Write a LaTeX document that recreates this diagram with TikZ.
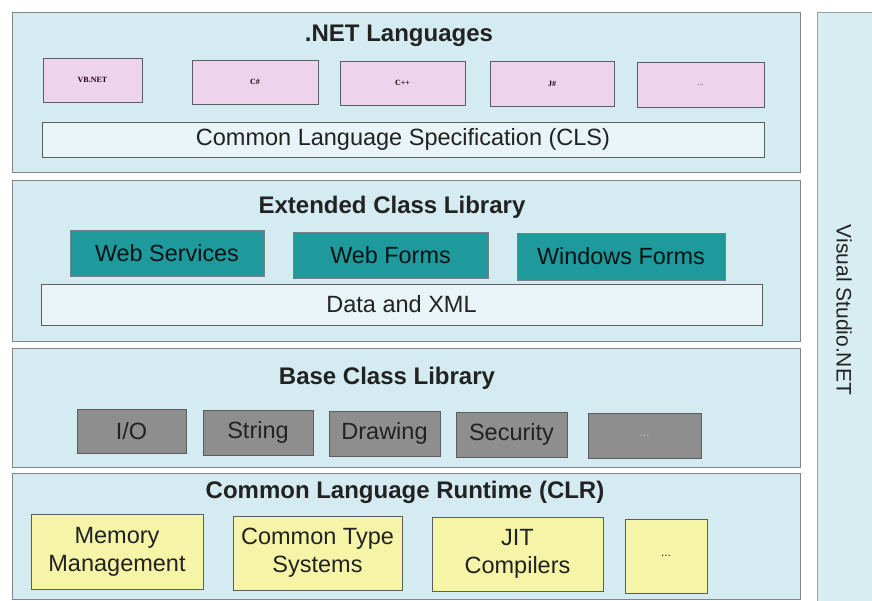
\documentclass[tikz,border=0pt]{standalone}
\usepackage{fontspec}
\setmainfont{Liberation Sans}
\newfontfamily\serifsmall{Liberation Serif}
\definecolor{layerfill}{HTML}{D3EBF1}
\definecolor{vsfill}{HTML}{D8EDF2}
\definecolor{pinkfill}{HTML}{EDD4EC}
\definecolor{tealfill}{HTML}{1E9A9C}
\definecolor{grayfill}{HTML}{8E8E8E}
\definecolor{yellowfill}{HTML}{F6F4A6}
\definecolor{whitefill}{HTML}{E8F4F7}
\definecolor{edgecol}{HTML}{5A5E60}
\definecolor{textcol}{HTML}{222222}
\tikzset{
  layer/.style={draw=edgecol!75, line width=0.9pt, fill=layerfill, inner sep=0pt},
  title/.style={font=\fontsize{24}{28}\selectfont\bfseries, text=textcol, inner sep=0pt},
  langbox/.style={draw=edgecol, line width=1pt, fill=pinkfill, font=\serifsmall\fontsize{8}{9}\selectfont\bfseries, text=black!70!purple!60!black, inner sep=0pt},
  widebox/.style={draw=edgecol, line width=1pt, fill=whitefill, font=\fontsize{23.5}{28}\selectfont, text=textcol, inner sep=0pt},
  tealbox/.style={draw=edgecol!80, line width=1pt, fill=tealfill, font=\fontsize{23.4}{28}\selectfont, text=black!85!teal, inner sep=0pt},
  graybox/.style={draw=edgecol, line width=1pt, fill=grayfill, font=\fontsize{23.5}{28}\selectfont, text=textcol, inner sep=0pt},
  yellowbox/.style={draw=edgecol, line width=1pt, fill=yellowfill, font=\fontsize{23.5}{28}\selectfont, text=textcol, inner sep=0pt, align=center},
}
\begin{document}
\begin{tikzpicture}[x=1pt,y=-1pt]
\useasboundingbox (0,0) rectangle (872,600);
\fill[white] (0,0) rectangle (872,600);
% Visual Studio panel
\node[layer, draw=edgecol!60, fill=vsfill, minimum width=62pt, minimum height=590pt, anchor=north west] (vs) at (817,12) {};
\node[rotate=-90, font=\fontsize{21}{24}\selectfont, text=textcol] (vstext) at (844,310) {Visual Studio.NET};
% Layer 1
\node[layer, minimum width=788pt, minimum height=160pt] (l1) at (406,92) {};
\node[title] (t1) at (399,36) {.NET Languages};
\node[langbox, minimum width=99pt, minimum height=44pt] (vb) at (92.5,80) {VB.NET};
\node[langbox, minimum width=126pt, minimum height=44pt] (cs) at (255,82) {C\#};
\node[langbox, minimum width=125pt, minimum height=44pt] (cpp) at (402.5,83) {C++};
\node[langbox, minimum width=124pt, minimum height=45pt] (js) at (552,83.5) {J\#};
\node[langbox, minimum width=127pt, minimum height=45pt] (ld) at (700.5,84.5) {\textcolor{black!45}{...}};
\node[widebox, minimum width=722pt, minimum height=35pt] (cls) at (403,139.5) {Common Language Specification (CLS)};
% Layer 2
\node[layer, minimum width=788pt, minimum height=161pt] (l2) at (406,260.5) {};
\node[title] (t2) at (392,207) {Extended Class Library};
\node[tealbox, minimum width=194pt, minimum height=46pt] (ws) at (167,253) {Web Services};
\node[tealbox, minimum width=195pt, minimum height=46pt] (wf) at (390.5,255) {Web Forms};
\node[tealbox, minimum width=208pt, minimum height=47pt] (wif) at (621,256.5) {Windows Forms};
\node[widebox, minimum width=721pt, minimum height=41pt] (xml) at (401.5,304.5) {Data and XML};
% Layer 3
\node[layer, minimum width=788pt, minimum height=119pt] (l3) at (406,407.5) {};
\node[title] (t3) at (387,378) {Base Class Library};
\node[graybox, minimum width=109pt, minimum height=44pt] (io) at (131.5,431) {I/O};
\node[graybox, minimum width=110pt, minimum height=45pt] (str) at (258,432.5) {String};
\node[graybox, minimum width=111pt, minimum height=45pt] (drw) at (384.5,433.5) {Drawing};
\node[graybox, minimum width=111pt, minimum height=45pt] (sec) at (511.5,434.5) {Security};
\node[graybox, minimum width=113pt, minimum height=45pt] (gd) at (644.5,435.5) {\textcolor{black!25}{\fontsize{12}{12}\selectfont ...}};
% Layer 4
\node[layer, minimum width=788pt, minimum height=126pt] (l4) at (406,536) {};
\node[title] (t4) at (405,492) {Common Language Runtime (CLR)};
\node[yellowbox, minimum width=172pt, minimum height=75pt] (mm) at (117,551.5) {Memory\\Management};
\node[yellowbox, minimum width=169pt, minimum height=74pt] (cts) at (317.5,553) {Common Type\\Systems};
\node[yellowbox, minimum width=171pt, minimum height=74pt] (jit) at (517.5,554) {JIT\\Compilers};
\node[yellowbox, minimum width=82pt, minimum height=74pt] (yd) at (666,556) {\fontsize{12}{12}\selectfont ...};
\end{tikzpicture}
\end{document}
